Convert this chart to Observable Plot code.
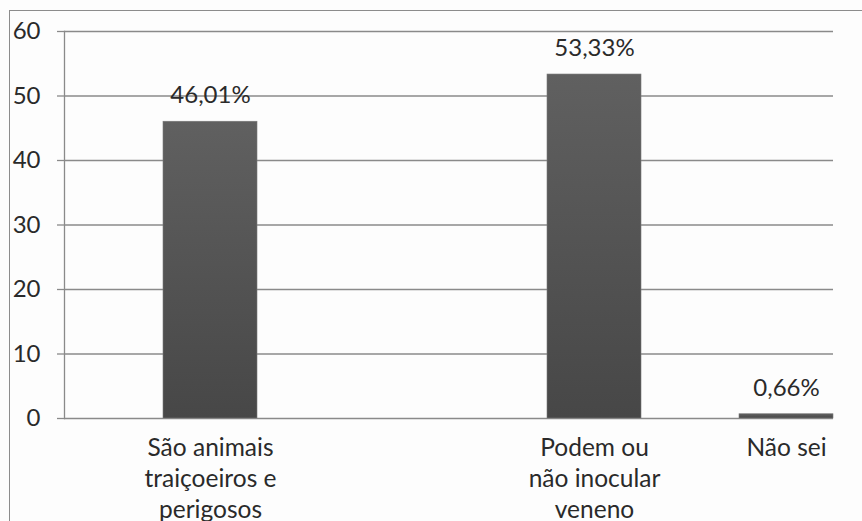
<!DOCTYPE html>
<html>
<head>
<meta charset="utf-8">
<script src="https://cdn.jsdelivr.net/npm/d3@7"></script>
<script src="https://cdn.jsdelivr.net/npm/@observablehq/plot@0.6"></script>
<style>
  html, body { margin: 0; padding: 0; background: #fdfdfd; }
  #wrap { position: relative; width: 862px; height: 521px; overflow: hidden; }
  #border { position: absolute; left: 9px; top: 10px; width: 870px; height: 530px;
            border-left: 1.5px solid #8c8c8c; border-top: 1.5px solid #8c8c8c; pointer-events: none; }
  svg { font-family: Lato, "Open Sans", sans-serif; }
</style>
</head>
<body>
<div id="wrap"><div id="border"></div><div id="chart"></div></div>
<script>
const categories = ["São animais traiçoeiros e perigosos", "Podem ou não inocular veneno", "Não sei"];
const tickLabels = ["São animais\ntraiçoeiros e\nperigosos", "Podem ou\nnão inocular\nveneno", "Não sei"];
const values = [46.01, 53.33, 0.66];
const valueLabels = ["46,01%", "53,33%", "0,66%"];
const yTicks = [0, 10, 20, 30, 40, 50, 60];
const xSlots = [categories[0], "", categories[1], categories[2]];

const data = categories.map((c, i) => ({cat: c, tick: tickLabels[i], value: values[i], label: valueLabels[i]}));

const chart = Plot.plot({
  width: 862,
  height: 521,
  marginLeft: 64,
  marginRight: 29,
  marginTop: 31,
  marginBottom: 103,
  style: {background: "transparent", fontFamily: "Lato, 'Open Sans', sans-serif"},
  x: {domain: xSlots, paddingInner: 0.51, paddingOuter: 0.255, align: 1, axis: null},
  y: {domain: [0, 60], axis: null},
  marks: [
    Plot.gridY(yTicks, {stroke: "#8a8a8a", strokeOpacity: 1, strokeWidth: 1.3}),
    Plot.frame({anchor: "left", stroke: "#8a8a8a", strokeWidth: 1.3}),
    Plot.axisY({ticks: yTicks, tickSize: 7, tickPadding: 17, stroke: "#8a8a8a", strokeWidth: 1.3,
                fontSize: 24, fill: "#2a2a2a", tickFormat: d => String(d), label: null}),
    Plot.barY(data, {x: "cat", y: "value", fill: "url(#barGrad)", stroke: "#7a7a7a", strokeWidth: 0.6}),
    Plot.text(data, {x: "cat", y: "value", text: "label", dy: -26, fontSize: 24, fill: "#2a2a2a"}),
    Plot.text(data, {x: "cat", y: 0, text: "tick", lineAnchor: "top", dy: 15, fontSize: 24.5,
                     lineHeight: 1.28, fill: "#2a2a2a"})
  ]
});

const svg = d3.select(chart);
const grad = svg.insert("defs", ":first-child").append("linearGradient")
  .attr("id", "barGrad").attr("x1", 0).attr("y1", 0).attr("x2", 0).attr("y2", 1);
grad.append("stop").attr("offset", "0%").attr("stop-color", "#606060");
grad.append("stop").attr("offset", "100%").attr("stop-color", "#474747");

document.getElementById("chart").appendChild(chart);
</script>
</body>
</html>
